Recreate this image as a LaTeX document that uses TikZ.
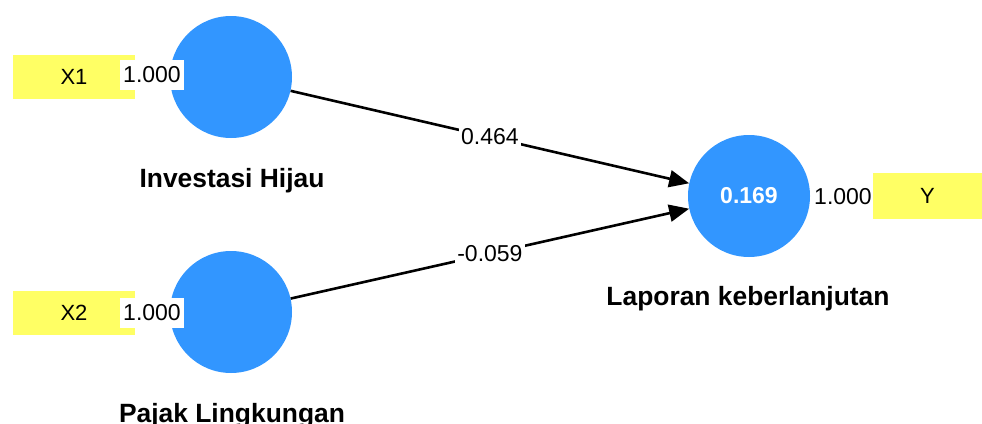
\documentclass[tikz,border=0pt]{standalone}
\usepackage{fontspec}
\setmainfont{Liberation Sans}
\usetikzlibrary{arrows.meta}
\definecolor{lvblue}{RGB}{50,150,255}
\definecolor{ind}{RGB}{255,255,100}
\tikzset{
  latent/.style={circle,fill=lvblue,minimum size=122pt,inner sep=0pt},
  indbox/.style={fill=ind,minimum width=122pt,minimum height=44pt,inner sep=0pt,font=\fontsize{22}{24}\selectfont},
  ybox/.style={fill=ind,minimum width=109pt,minimum height=46pt,inner sep=0pt,font=\fontsize{22}{24}\selectfont},
  loading/.style={fill=white,minimum width=64pt,minimum height=30pt,inner sep=0pt,font=\fontsize{23}{25}\selectfont},
  lvname/.style={anchor=base,font=\fontsize{26.4}{28}\selectfont\bfseries},
  coef/.style={fill=white,inner sep=2pt,font=\fontsize{23}{25}\selectfont},
  path/.style={line width=2.6pt,-{Triangle[length=20pt,width=17pt]}},
}
\begin{document}
\begin{tikzpicture}[x=1pt,y=-1pt]
\useasboundingbox (0,0) rectangle (982,423);
% indicators
\node[indbox] (x1) at (74,77) {X1};
\node[indbox] (x2) at (74,312.5) {X2};
\node[ybox] (y) at (927.5,196) {Y};
% latent variables
\node[latent] (ih) at (231,77) {};
\node[latent] (pl) at (231,312) {};
\node[latent,text=white,font=\fontsize{23}{25}\selectfont\bfseries] (lk) at (749,196) {0.169};
% outer loadings
\node[loading] (l1) at (152,75) {1.000};
\node[loading] (l2) at (152,312.5) {1.000};
\node[font=\fontsize{23}{25}\selectfont] (l3) at (843,197) {1.000};
% names
\node[lvname] (nih) at (232,187) {Investasi Hijau};
\node[lvname] (npl) at (232,422) {Pajak Lingkungan};
\node[lvname] (nlk) at (748,305) {Laporan keberlanjutan};
% paths
\draw[path] (ih) -- (lk.168) node[coef,pos=0.5] (c1) {0.464};
\draw[path] (pl) -- (lk.192) node[coef,pos=0.5] (c2) {-0.059};
\end{tikzpicture}
\end{document}
